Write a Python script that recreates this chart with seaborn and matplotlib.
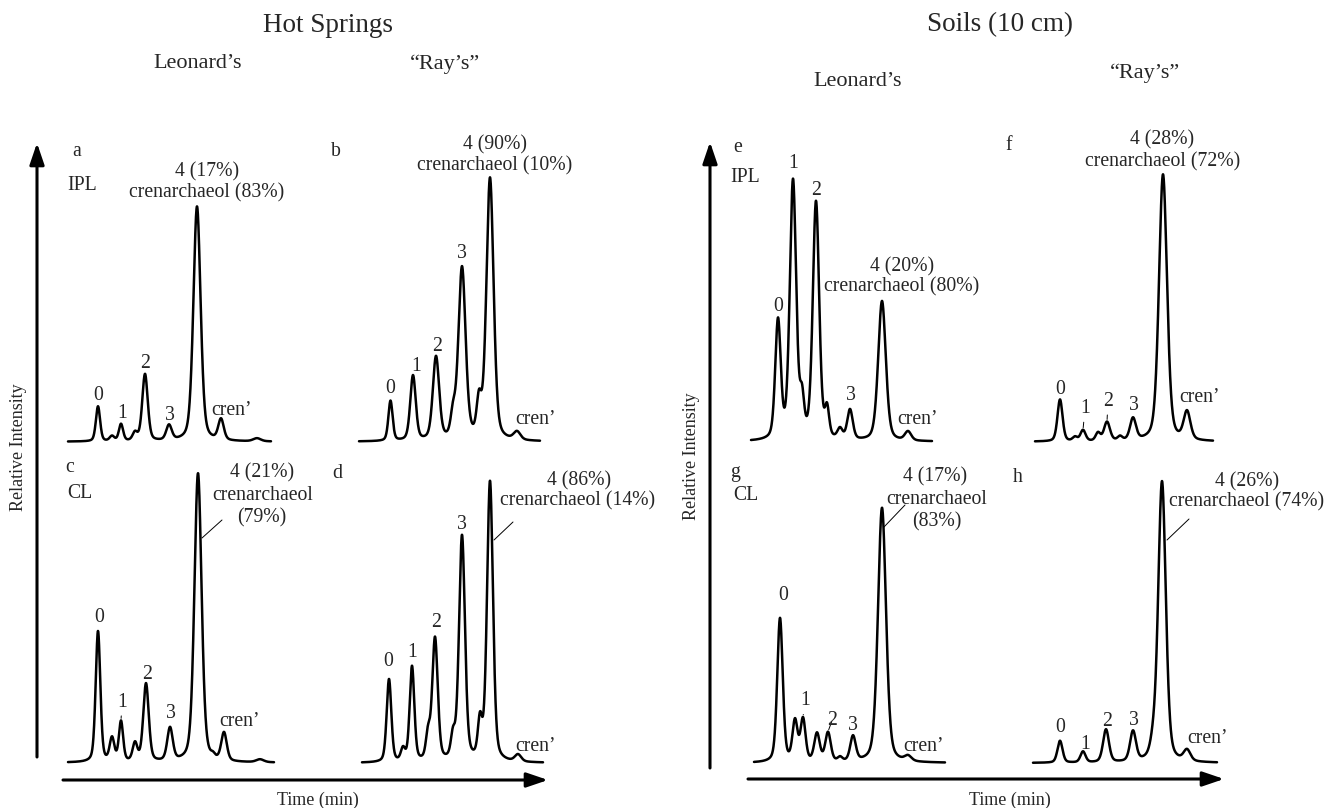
import numpy as np
import pandas as pd
import matplotlib
matplotlib.use("Agg")
import matplotlib.pyplot as plt
import seaborn as sns
from matplotlib.transforms import Affine2D
from matplotlib.patches import FancyArrowPatch
from matplotlib.lines import Line2D

# ---------------- data (retention time in min, intensity in % of tallest peak) -------------
time_a = [6.0, 8.8, 10.6, 13.4, 15.4, 20.2, 25.8, 30.6, 37.8]
height_a = [14.9, 2.1, 7.2, 3.4, 28.5, 6.4, 100, 8.9, 1.3]
fwhm_a = [1.0, 1.1, 1.0, 1.1, 1.3, 1.3, 1.7, 1.3, 1.8]
run_a = 40.6

time_b = [6.3, 10.8, 15.4, 18.8, 20.6, 24.0, 26.2, 31.6]
height_b = [15.3, 24.8, 31.7, 8.4, 65.6, 13.4, 100, 3.1]
fwhm_b = [1.0, 1.3, 1.5, 1.1, 1.7, 1.1, 1.7, 1.6]
run_b = 36.2

time_c = [6.0, 8.8, 10.6, 13.4, 15.6, 20.4, 26.0, 29.0, 31.2, 38.4]
height_c = [45.3, 8.0, 13.8, 6.2, 27.0, 11.4, 100, 1.0, 9.7, 1.0]
fwhm_c = [1.1, 1.1, 1.0, 1.1, 1.3, 1.3, 1.7, 0.9, 1.3, 1.8]
run_c = 41.2

time_d = [5.4, 8.2, 10.0, 13.2, 14.6, 18.2, 20.0, 23.6, 25.6, 31.2]
height_d = [29.6, 4.3, 33.9, 8.9, 43.9, 7.9, 80.4, 13.2, 100, 2.5]
fwhm_d = [1.1, 1.0, 1.1, 1.0, 1.3, 1.0, 1.4, 1.0, 1.4, 1.5]
run_d = 36.2

time_e = [5.4, 8.4, 10.2, 13.0, 15.2, 17.8, 19.8, 26.2, 31.4]
height_e = [45.7, 100, 13.6, 91.9, 10.9, 3.9, 11.6, 54.3, 3.5]
fwhm_e = [1.3, 1.5, 1.0, 1.5, 1.0, 1.2, 1.3, 1.8, 1.5]
run_e = 36.2

time_f = [5.0, 8.0, 9.6, 12.6, 14.4, 17.0, 19.6, 25.6, 30.4]
height_f = [15.7, 1.5, 4.1, 3.0, 7.1, 1.5, 8.2, 100, 10.5]
fwhm_f = [1.2, 1.1, 1.2, 1.1, 1.4, 1.1, 1.4, 1.9, 1.6]
run_f = 35.6

time_g = [5.2, 8.2, 9.8, 12.6, 14.8, 17.2, 19.8, 25.6, 30.8]
height_g = [56.5, 15.7, 16.5, 11.0, 11.4, 1.6, 9.8, 100, 2.0]
fwhm_g = [1.3, 1.2, 1.2, 1.3, 1.3, 1.1, 1.3, 1.9, 1.6]
run_g = 38.2

time_h = [5.4, 10.0, 14.6, 20.0, 24.0, 25.8, 30.8]
height_h = [7.8, 3.9, 11.7, 10.7, 4.3, 100, 3.9]
fwhm_h = [1.2, 1.2, 1.4, 1.4, 1.4, 1.8, 1.6]
run_h = 36.8

# peak labels: (text, index of peak)
labels_a = [("0", 0), ("1", 2), ("2", 4), ("3", 5), ("cren’", 7)]
labels_b = [("0", 0), ("1", 1), ("2", 2), ("3", 4), ("cren’", 7)]
labels_c = [("0", 0), ("1", 2), ("2", 4), ("3", 5), ("cren’", 8)]
labels_d = [("0", 0), ("1", 2), ("2", 4), ("3", 6), ("cren’", 9)]
labels_e = [("0", 0), ("1", 1), ("2", 3), ("3", 6), ("cren’", 8)]
labels_f = [("0", 0), ("1", 2), ("2", 4), ("3", 6), ("cren’", 8)]
labels_g = [("0", 0), ("1", 2), ("2", 4), ("3", 6), ("cren’", 8)]
labels_h = [("0", 0), ("1", 1), ("2", 2), ("3", 3), ("cren’", 6)]

main_a = ["4 (17%)", "crenarchaeol (83%)"]
main_b = ["4 (90%)", "crenarchaeol (10%)"]
main_c = ["4 (21%)", "crenarchaeol", "(79%)"]
main_d = ["4 (86%)", "crenarchaeol (14%)"]
main_e = ["4 (20%)", "crenarchaeol (80%)"]
main_f = ["4 (28%)", "crenarchaeol (72%)"]
main_g = ["4 (17%)", "crenarchaeol", "(83%)"]
main_h = ["4 (26%)", "crenarchaeol (74%)"]

# ---------------- layout (pixels, top-left origin) ----------------
W, H = 1327, 808
ETA = 0.35  # Lorentzian fraction of peak shape
LW = 1.8

layout = {
    "a": dict(box=(68, 271, 441.7, 235), off=[(0, 11), (1, 10), (0, 10), (1, 9), (11, 8)], tick=[],
              main=[(207, 172), (207, 193)], letter=(77, 152), kind=("IPL", 67, 186), leader=None),
    "b": dict(box=(359, 540, 441.7, 262), off=[(0, 12), (3, 9), (1, 9), (0, 13), (18, 11)], tick=[],
              main=[(495, 145), (495, 166)], letter=(336, 152), kind=None, leader=None),
    "c": dict(box=(68, 274, 762.7, 289), off=[(1, 14), (1, 18), (1, 9), (1, 13), (16, 10)], tick=[1],
              main=[(262, 473), (263, 495), (262, 518)], letter=(70, 467), kind=("CL", 67, 493),
              leader=((202, 538), (222, 520))),
    "d": dict(box=(362, 543, 763, 280), off=[(-1, 17), (0, 13), (1, 14), (0, 10), (18, 8)], tick=[],
              main=[(579, 481), (578, 501)], letter=(337, 473), kind=None,
              leader=((494, 540), (513, 522))),
    "e": dict(box=(751, 932, 441.7, 258), off=[(0, 11), (0, 15), (0, 10), (1, 13), (9, 11)], tick=[],
              main=[(902, 267), (902, 287)], letter=(738, 148), kind=("IPL", 730, 177), leader=None),
    "f": dict(box=(1035, 1213, 441.7, 267), off=[(0, 10), (2, 21), (1, 20), (1, 12), (13, 13)], tick=[1, 2],
              main=[(1162, 140), (1163, 162)], letter=(1009, 145), kind=None, leader=None),
    "g": dict(box=(754, 945, 763, 255), off=[(3, 22), (2, 16), (4, 11), (0, 10), (15, 8)], tick=[1, 2],
              main=[(935, 477), (937, 499), (937, 522)], letter=(735, 473), kind=("CL", 733, 496),
              leader=((884, 527), (905, 505))),
    "h": dict(box=(1033, 1217, 763, 281), off=[(0, 13), (2, 7), (1, 8), (1, 10), (20, 10)], tick=[],
              main=[(1247, 482), (1247, 502)], letter=(1018, 477), kind=None,
              leader=((1167, 540), (1189, 519))),
}

data = {
    "a": (time_a, height_a, fwhm_a, run_a, labels_a, main_a),
    "b": (time_b, height_b, fwhm_b, run_b, labels_b, main_b),
    "c": (time_c, height_c, fwhm_c, run_c, labels_c, main_c),
    "d": (time_d, height_d, fwhm_d, run_d, labels_d, main_d),
    "e": (time_e, height_e, fwhm_e, run_e, labels_e, main_e),
    "f": (time_f, height_f, fwhm_f, run_f, labels_f, main_f),
    "g": (time_g, height_g, fwhm_g, run_g, labels_g, main_g),
    "h": (time_h, height_h, fwhm_h, run_h, labels_h, main_h),
}

sns.set_style("white")
plt.rcParams["font.family"] = ["Liberation Serif", "DejaVu Serif"]

fig = plt.figure(figsize=(W / 100, H / 100), dpi=100)
T = Affine2D().scale(1.0 / W, -1.0 / H).translate(0, 1) + fig.transFigure

FS = 14.2


def trace(times, heights, fwhm, run):
    t = np.linspace(0, run, 1500)
    y = np.zeros_like(t)
    for t0, h, w in zip(times, heights, fwhm):
        u = (t - t0) / w
        g = np.exp(-4 * np.log(2) * u ** 2)
        lor = 1.0 / (1 + 4 * u ** 2)
        y += h * (ETA * lor + (1 - ETA) * g)
    return pd.DataFrame({"time": t, "intensity": y})


for key, (times, heights, fwhm, run, labels, main) in data.items():
    lay = layout[key]
    left, right, base, top = lay["box"]
    ax = fig.add_axes([left / W, 1 - base / H, (right - left) / W, top / H])
    df = trace(times, heights, fwhm, run)
    sns.lineplot(data=df, x="time", y="intensity", ax=ax, color="black", lw=LW,
                 estimator=None, sort=True)
    for ln in ax.lines:
        ln.set_clip_on(False)
        ln.set_solid_capstyle("round")
        ln.set_solid_joinstyle("round")
    ax.set_xlim(0, run)
    ax.set_ylim(0, 100)
    ax.set_axis_off()

    for i, (txt, idx) in enumerate(labels):
        t0 = times[idx]
        ypk = float(np.interp(t0, df["time"], df["intensity"]))
        dx, dy = lay["off"][i]
        kw = {}
        if i in lay["tick"]:
            kw["arrowprops"] = dict(arrowstyle="-", lw=0.7, color="black", shrinkA=0.5, shrinkB=1.5)
        ax.annotate(txt, xy=(t0, ypk), xytext=(dx, dy), textcoords="offset pixels",
                    ha="center", va="center", fontsize=FS, annotation_clip=False, **kw)

    for txt, (x, y) in zip(main, lay["main"]):
        fig.text(x, y, txt, transform=T, ha="center", va="center", fontsize=FS)

    lx, ly = lay["letter"]
    fig.text(lx, ly, key, transform=T, ha="center", va="center", fontsize=FS)
    if lay["kind"]:
        k, kx, ky = lay["kind"]
        fig.text(kx, ky, k, transform=T, ha="left", va="center", fontsize=FS)
    if lay["leader"]:
        (x0, y0), (x1, y1) = lay["leader"]
        fig.add_artist(Line2D([x0, x1], [y0, y1], transform=T, color="black", lw=0.7))

# axis arrows
arrow_style = "-|>,head_length=1.0,head_width=0.34"
for (xa, ya), (xb, yb) in [((37, 757), (37, 143)), ((63, 780), (548, 780)),
                           ((710, 768), (710, 142)), ((748, 779), (1224, 779))]:
    fig.add_artist(FancyArrowPatch((xa, ya), (xb, yb), transform=T, arrowstyle=arrow_style,
                                   mutation_scale=13, lw=2.2, color="black",
                                   shrinkA=0, shrinkB=0))

# headers and axis titles
fig.text(328, 26, "Hot Springs", transform=T, ha="center", va="center", fontsize=19.5)
fig.text(1000, 25, "Soils (10 cm)", transform=T, ha="center", va="center", fontsize=19.5)
fig.text(198, 64, "Leonard’s", transform=T, ha="center", va="center", fontsize=16)
fig.text(445, 64, "“Ray’s”", transform=T, ha="center", va="center", fontsize=16)
fig.text(858, 81, "Leonard’s", transform=T, ha="center", va="center", fontsize=16)
fig.text(1145, 73, "“Ray’s”", transform=T, ha="center", va="center", fontsize=16)

fig.text(19, 447, "Relative Intensity", transform=T, ha="center", va="center",
         rotation=90, fontsize=13)
fig.text(691, 456, "Relative Intensity", transform=T, ha="center", va="center",
         rotation=90, fontsize=13)
fig.text(318, 800, "Time (min)", transform=T, ha="center", va="center", fontsize=13)
fig.text(1010, 800, "Time (min)", transform=T, ha="center", va="center", fontsize=13)

fig.savefig("out.png", dpi=100, facecolor="white")
